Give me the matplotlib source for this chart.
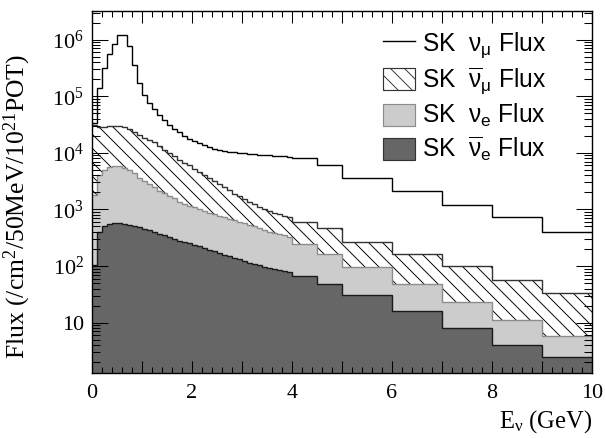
import numpy as np
import matplotlib
matplotlib.use('Agg')
import matplotlib.pyplot as plt
from matplotlib.patches import Patch
from matplotlib.lines import Line2D
from matplotlib.ticker import FixedLocator, FuncFormatter, LogLocator, MultipleLocator, NullFormatter

# ---- data (flux per 50 MeV per 1e21 POT) ----
edges = [0.0, 0.1, 0.2, 0.3, 0.4, 0.5, 0.6, 0.7, 0.8, 0.9,
         1.0, 1.1, 1.2, 1.3, 1.4, 1.5, 1.6, 1.7, 1.8, 1.9,
         2.0, 2.1, 2.2, 2.3, 2.4, 2.5, 2.6, 2.7, 2.8, 2.9,
         3.0, 3.1, 3.2, 3.3, 3.4, 3.5, 3.6, 3.7, 3.8, 3.9,
         4.0, 4.5, 5.0, 6.0, 7.0, 8.0, 9.0, 10.0]

numu = [33000, 141000, 316000, 550000, 851000, 1230000, 1230000, 759000, 363000, 170000,
        107000, 75900, 58900, 45700, 38000, 30900, 26300, 22900, 20000, 17800,
        16200, 14800, 13500, 12600, 11700, 11200, 10700, 10500, 10200, 10000,
        9800, 9550, 9500, 9330, 9120, 9100, 8910, 8900, 8710, 8510,
        7940, 6170, 3630, 2140, 1200, 724, 407]

numubar = [31600, 28800, 28800, 29500, 30200, 30200, 28800, 26300, 23400, 20400,
           18200, 17000, 15500, 13200, 11200, 9770, 8710, 7590, 6610, 6030,
           5250, 4570, 3980, 3630, 3240, 2820, 2510, 2190, 1910, 1700,
           1510, 1350, 1230, 1100, 1000, 933, 871, 832, 776, 724,
           603, 468, 269, 162, 100, 56, 33]

nue = [1780, 4070, 4900, 5620, 5890, 5750, 5370, 5010, 4370, 3550,
       3240, 2820, 2450, 2140, 1950, 1740, 1580, 1380, 1260, 1150,
       1100, 1020, 933, 871, 832, 776, 724, 676, 646, 603,
       575, 537, 501, 468, 437, 407, 389, 372, 347, 324,
       245, 162, 98, 48, 23.4, 11, 5.9]

nuebar = [105, 407, 501, 550, 575, 575, 550, 537, 513, 490,
          457, 427, 398, 372, 347, 324, 302, 282, 263, 251,
          234, 224, 209, 195, 182, 170, 158, 148, 138, 132,
          123, 115, 110, 105, 98, 93, 89, 85, 81, 78,
          66, 49, 31, 16, 8.1, 4.1, 2.5]

labels = [r'SK  $\nu_{\mu}$ Flux', r'SK  $\overline{\nu}_{\mu}$ Flux',
          r'SK  $\nu_{e}$ Flux', r'SK  $\overline{\nu}_{e}$ Flux']

xlim = (0, 10)
ylim = (1.29, 3.2e6)

# ---- style ----
plt.rcParams['font.family'] = ['Liberation Serif', 'DejaVu Serif']
plt.rcParams['mathtext.default'] = 'regular'
plt.rcParams['hatch.linewidth'] = 0.8

DPI = 84
fig = plt.figure(figsize=(606 / DPI, 438 / DPI), dpi=DPI)
ax = fig.add_axes([92 / 606, 1 - 373 / 438, 500 / 606, 362 / 438])
ax.set_yscale('log')

base = 1.0
ax.stairs(numubar, edges, baseline=base, fill=True, facecolor='white',
          edgecolor='black', hatch='\\\\', linewidth=0, zorder=1.0)
ax.stairs(numubar, edges, baseline=None, color='#333333', lw=1.2, zorder=1.1)
ax.stairs(nue, edges, baseline=base, fill=True, facecolor='#cccccc',
          edgecolor='#cccccc', linewidth=0, zorder=1.2)
ax.stairs(nue, edges, baseline=None, color='#8c8c8c', lw=1.2, zorder=1.3)
ax.stairs(nuebar, edges, baseline=base, fill=True, facecolor='#666666',
          edgecolor='#666666', linewidth=0, zorder=1.4)
ax.stairs(nuebar, edges, baseline=None, color='#1a1a1a', lw=1.2, zorder=1.5)
ax.stairs(numu, edges, baseline=None, color='black', lw=1.2, zorder=1.6)

ax.set_xlim(*xlim)
ax.set_ylim(*ylim)

# ticks
ax.xaxis.set_major_locator(MultipleLocator(1))
ax.xaxis.set_minor_locator(MultipleLocator(0.2))
ax.xaxis.set_major_formatter(FuncFormatter(
    lambda v, p: f'{int(round(v))}' if int(round(v)) % 2 == 0 else ''))
ax.yaxis.set_major_locator(FixedLocator([1e1, 1e2, 1e3, 1e4, 1e5, 1e6]))
ax.yaxis.set_minor_locator(LogLocator(base=10, subs=np.arange(2, 10), numticks=100))
ax.yaxis.set_minor_formatter(NullFormatter())


def yfmt(v, p):
    e = int(round(np.log10(v)))
    return '10' if e == 1 else r'$10^{%d}$' % e


ax.yaxis.set_major_formatter(FuncFormatter(yfmt))

ax.tick_params(which='both', direction='in', top=True, right=True, width=0.9, color='black')
ax.tick_params(axis='y', which='major', length=13.5, pad=7, labelsize=19)
ax.tick_params(axis='y', which='minor', length=6.5)
ax.tick_params(axis='x', which='major', length=10, pad=9, labelsize=19)
ax.tick_params(axis='x', which='minor', length=5)
for s in ax.spines.values():
    s.set_linewidth(1.2)

ax.set_xlabel(r'E$_{\nu}$ (GeV)', fontsize=21, loc='right', labelpad=5)
ax.set_ylabel(r'Flux (/cm$^{2}$/50MeV/10$^{21}$POT)', fontsize=22)
ax.yaxis.set_label_coords(-0.118, 0.46)

handles = [Line2D([], [], color='black', lw=1.2),
           Patch(facecolor='white', edgecolor='#333333', hatch='\\\\', lw=1.0),
           Patch(facecolor='#cccccc', edgecolor='#8c8c8c', lw=1.0),
           Patch(facecolor='#666666', edgecolor='#333333', lw=1.0)]
ax.legend(handles, labels, loc='upper left', bbox_to_anchor=(0.582, 0.948),
          frameon=False, prop={'family': 'Liberation Sans', 'size': 21},
          handlelength=1.3, handleheight=1.0, handletextpad=0.3,
          labelspacing=0.24, borderpad=0, borderaxespad=0)

fig.savefig('out.png', dpi=DPI)
